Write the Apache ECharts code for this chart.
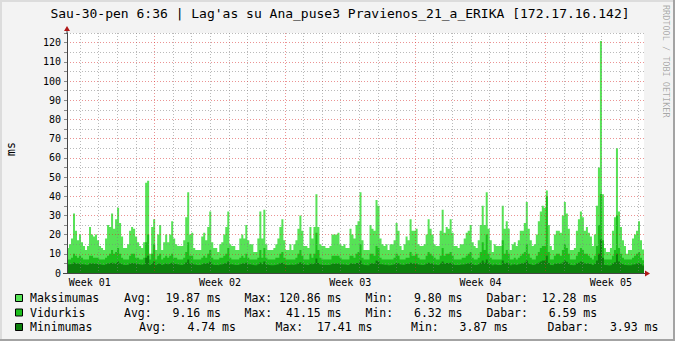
<!DOCTYPE html>
<html><head><meta charset="utf-8">
<script src="https://cdn.jsdelivr.net/npm/echarts@6/dist/echarts.min.js"></script>
<style>html,body{margin:0;padding:0;background:#F3F3F3}#c{width:675px;height:341px}</style>
</head><body><div id="c"></div>
<script>
// ---- data (ms), one value per 2.58 h step, 31 days ----
const maxValues = [13,15,18,31,22,17,20,16,14,12,14,24,20,19,20,17,14,13,12,18,25,24,31,23,28,34,26,19,13,13,15,22,24,23,19,16,14,13,16,47,48,10,24,28,12,20,25,
12,16,20,16,20,27,18,15,14,14,14,17,29,42,20,21,13,12,12,12,19,21,17,24,32,16,13,13,11,15,16,20,24,32,15,14,14,12,12,18,20,18,25,17,15,15,11,11,18,32,
18,33,15,12,12,12,13,15,18,24,28,17,12,12,15,12,15,17,23,30,22,14,14,13,24,18,24,41,24,15,14,14,13,13,14,20,20,20,21,15,14,15,13,13,23,20,18,25,
27,42,17,12,12,12,25,23,22,38,35,18,15,14,15,12,15,15,17,26,22,14,12,15,19,17,28,22,22,23,15,14,14,15,20,28,23,20,15,14,14,22,33,21,24,23,28,21,14,14,
13,15,15,18,21,22,25,16,14,13,17,25,35,25,42,23,17,11,15,14,14,14,35,23,27,23,12,15,16,14,17,22,22,26,37,23,17,14,15,20,27,32,35,34,43,25,14,12,
20,22,22,21,30,37,31,23,12,12,13,22,28,32,29,22,24,21,19,14,20,35,55,120.86,41,13,11,11,13,22,29,65,32,24,17,14,10,12,12,18,20,22,27,17,12.28];
const avgValues = [7,7,8,10,9,8,9,8,7,7,7,9,9,8,8,8,7,7,7,8,9,10,12,10,11,13,10,8,7,7,7,9,10,10,8,8,7,7,8,16,20,7,10,15,7,9,10,
7,8,9,8,9,10,8,8,7,7,7,8,11,16,9,9,7,7,7,7,8,9,8,10,12,8,7,7,7,8,8,9,10,13,8,7,7,7,7,8,9,8,10,8,7,7,7,7,8,12,
8,13,8,7,7,7,7,8,8,10,11,8,7,7,7,7,7,8,10,12,9,7,7,7,10,8,10,21,12,8,7,7,7,7,7,9,9,9,9,8,7,7,7,7,9,9,8,10,
11,15,8,7,7,7,10,10,9,14,13,8,7,7,7,7,7,7,8,10,9,7,7,7,8,8,11,9,9,10,8,7,7,7,9,11,10,9,8,7,7,9,13,9,10,10,11,9,7,7,
7,7,8,8,9,10,11,8,7,7,8,11,16,12,20,10,8,7,7,7,7,7,17,10,12,10,7,7,8,7,8,9,10,11,15,10,8,7,7,9,11,13,14,14,40,11,7,7,
9,10,10,9,12,15,13,10,7,7,7,9,11,13,12,10,10,9,8,7,9,14,25,41.15,17,7,7,7,7,9,12,30,13,10,8,7,7,7,7,8,9,10,11,8,6.59];
const minValues = [4.5,4.5,4.8,5.5,5,4.8,5,4.6,4.4,4.2,4.4,5,5,4.8,4.8,4.6,4.4,4.2,4.2,4.6,5,5.2,5.5,5,5.2,6,5,4.6,4.2,4.2,4.4,5,5.2,5,4.8,4.6,4.4,4.2,4.6,8,9,4.2,5,6,4.2,4.8,5,
4.2,4.6,5,4.6,5,5.4,4.8,4.6,4.4,4.2,4.2,4.6,5.5,7,5,5,4.4,4.2,4.2,4.2,4.6,5,4.8,5.2,6,4.6,4.2,4.2,4,4.4,4.6,5,5.2,6,4.6,4.4,4.2,4.2,4.2,4.6,5,4.8,5.4,4.6,4.4,4.2,4,4,4.6,5.5,
4.6,6,4.4,4.2,4,4,4.2,4.4,4.6,5.2,5.5,4.6,4.2,4.2,4.4,4.2,4.4,4.6,5,5.6,5,4.4,4.2,4.2,5,4.6,5,7.5,5.2,4.4,4.2,4.2,4.2,4.2,4.4,4.8,4.8,5,5,4.6,4.4,4.4,4.2,4.2,5,4.8,4.6,5.2,
5.2,6.5,4.6,4.2,4,4,5,5,4.8,6.5,6,4.6,4.4,4.2,4.4,4,4.2,4.4,4.6,5.2,5,4.4,4.2,4.4,4.8,4.6,5.4,5,5,5,4.4,4.2,4.2,4.4,4.8,5.4,5,4.8,4.4,4.2,4.2,5,6,4.8,5.2,5,5.4,4.8,4.2,4.2,
4.2,4.4,4.4,4.6,5,5,5.4,4.6,4.2,4.2,4.6,5.4,6.5,5.4,7,5,4.6,4,4.4,4.2,4.2,4.2,6.5,5,5.4,5,4,4.4,4.6,4.2,4.6,5,5,5.4,6.5,5,4.6,4.2,4.4,4.8,5.4,6,6.5,6.5,9,5.2,4.2,4,
4.8,5,5,4.8,5.5,6.5,5.8,5,4.2,4,4.2,5,5.4,6,5.6,5,5,4.8,4.6,4.2,4.8,6.5,10,17.41,8,4.2,4,3.87,4.2,5,5.6,10,6,5,4.6,4.2,4,4,4,4.4,4.6,5,5.2,4.6,3.93];

// time grid, in days from the left edge of the graph
const dayLineDays = [0.7,1.7,2.7,3.7,5.7,6.7,7.7,8.7,9.7,10.7,12.7,13.7,14.7,15.7,16.7,17.7,19.7,20.7,21.7,22.7,23.7,24.7,26.7,27.7,28.7,29.7,30.7];
const weekLineDays = [4.7,11.7,18.7,25.7];
const weekLabelDays = [1.22,8.22,15.22,22.22,29.22];
const weekLabels = ['Week 01','Week 02','Week 03','Week 04','Week 05'];
const yMax = 125;

const titleText = "Sau-30-pen 6:36 | Lag'as su Ana_puse3 Pravienos_21_a_ERIKA [172.17.16.142]";
const seriesNames = ['Maksimumas','Vidurkis','Minimumas'];
const seriesColors = ['#56E356','#1DBE1D','#0D800D'];
const legendTexts = [
  ['Avg:  19.87 ms','Max: 120.86 ms','Min:   9.80 ms','Dabar:  12.28 ms'],
  ['Avg:   9.16 ms','Max:  41.15 ms','Min:   6.32 ms','Dabar:   6.59 ms'],
  ['Avg:   4.74 ms','Max:  17.41 ms','Min:   3.87 ms','Dabar:   3.93 ms']
];

// ---- layout ----
const MONO = "'DejaVu Sans Mono', monospace";
const legendRowY = [298, 312.5, 327];
const legendColX = [[124,244.5,365.5,486.4],[124,244.5,365.5,486.4],[139,275.5,411.1,547.6]];
const GREY = 'rgba(130,130,130,0.55)';
const RED = 'rgba(215,40,40,0.5)';

const toSteps = arr => arr.map((v,i)=>[i,v]).concat([[arr.length, arr[arr.length-1]]]);
const chart = echarts.init(document.getElementById('c'), null, {renderer:'svg', width:675, height:341});

const graphics = [
  {type:'rect', shape:{x:0,y:0,width:675,height:2}, style:{fill:'#DCDCDC'}, silent:true},
  {type:'rect', shape:{x:0,y:0,width:2,height:341}, style:{fill:'#DCDCDC'}, silent:true},
  {type:'rect', shape:{x:673,y:0,width:2,height:341}, style:{fill:'#A3A3A3'}, silent:true},
  {type:'rect', shape:{x:0,y:339,width:675,height:2}, style:{fill:'#A3A3A3'}, silent:true},
  {type:'text', x:340, y:13, style:{text:titleText, font:"13px "+MONO, fill:'#000', align:'center', verticalAlign:'middle'}},
  {type:'text', x:666, y:5, rotation:-Math.PI/2, style:{text:'RRDTOOL / TOBI OETIKER', font:"8.5px "+MONO, fill:'rgba(0,0,0,0.33)', align:'left', verticalAlign:'middle'}},
  {type:'text', x:11, y:149, rotation:Math.PI/2, style:{text:'ms', font:"11.5px "+MONO, fill:'#000', align:'center', verticalAlign:'middle'}},
  {type:'line', shape:{x1:67,y1:29,x2:67,y2:34}, style:{stroke:'#454545',lineWidth:1}, z:10},
  {type:'line', shape:{x1:63,y1:273.5,x2:67,y2:273.5}, style:{stroke:'#454545',lineWidth:1}, z:10},
  {type:'line', shape:{x1:644,y1:273.5,x2:647,y2:273.5}, style:{stroke:'#454545',lineWidth:1}, z:10},
  {type:'polygon', shape:{points:[[64,31],[70,31],[67,26]]}, style:{fill:'#B01818'}, z:11},
  {type:'polygon', shape:{points:[[645,270.5],[645,276.5],[650,273.5]]}, style:{fill:'#B01818'}, z:11}
];
seriesNames.forEach((name, r) => {
  const y = legendRowY[r];
  graphics.push({type:'rect', shape:{x:15.5,y:y-3.5,width:7,height:7}, style:{fill:seriesColors[r], stroke:'#000', lineWidth:1}});
  graphics.push({type:'text', x:30, y:y, style:{text:name, font:"11.5px "+MONO, fill:'#000', align:'left', verticalAlign:'middle'}});
  legendTexts[r].forEach((t, c) => {
    graphics.push({type:'text', x:legendColX[r][c], y:y, style:{text:t, font:"11.5px "+MONO, fill:'#000', align:'left', verticalAlign:'middle'}});
  });
});

const option = {
  animation:false,
  backgroundColor:'#F3F3F3',
  grid:{left:67, right:31, top:33, bottom:68, show:true, backgroundColor:'#FFFFFF', borderWidth:0, outerBoundsMode:'none'},
  xAxis:[
    {type:'value', min:0, max:maxValues.length, show:false, position:'bottom'},
    {type:'value', min:0, max:31, position:'bottom', z:4,
      axisLine:{show:false}, axisLabel:{show:false},
      axisTick:{show:false, customValues:dayLineDays},
      splitLine:{show:true, lineStyle:{color:GREY, type:[1,2], width:1}}},
    {type:'value', min:0, max:31, position:'bottom', z:4,
      axisLine:{show:false}, axisLabel:{show:false},
      axisTick:{show:false, customValues:weekLineDays},
      splitLine:{show:true, lineStyle:{color:RED, type:[1,2], width:1}}},
    {type:'value', min:0, max:31, position:'bottom', z:5,
      axisLine:{show:true, onZero:false, lineStyle:{color:'#454545', width:1}},
      axisTick:{show:false, customValues:weekLabelDays},
      axisLabel:{show:true, customValues:weekLabelDays, margin:4, color:'#000', fontFamily:MONO, fontSize:10,
        formatter: v => weekLabels[weekLabelDays.indexOf(v)] || ''},
      splitLine:{show:false}}
  ],
  yAxis:{type:'value', min:0, max:yMax, interval:5, z:5,
    axisLine:{show:true, lineStyle:{color:'#454545', width:1}},
    axisTick:{show:true, length:3, lineStyle:{color:'#888'}},
    axisLabel:{margin:6, color:'#000', fontFamily:MONO, fontSize:10, formatter: v => (v % 10 === 0 ? String(v) : '')},
    splitLine:{show:true, lineStyle:{color:[RED, GREY], type:[1,2], width:1}}},
  series:[maxValues, avgValues, minValues].map((arr, k) => ({
    type:'line', name:seriesNames[k], xAxisIndex:0, yAxisIndex:0, data:toSteps(arr), step:'end',
    symbol:'none', silent:true, z:2,
    lineStyle:{width:0, color:seriesColors[k]},
    areaStyle:{color:seriesColors[k], opacity:1}
  })),
  graphic:graphics
};
chart.setOption(option);
</script></body></html>
